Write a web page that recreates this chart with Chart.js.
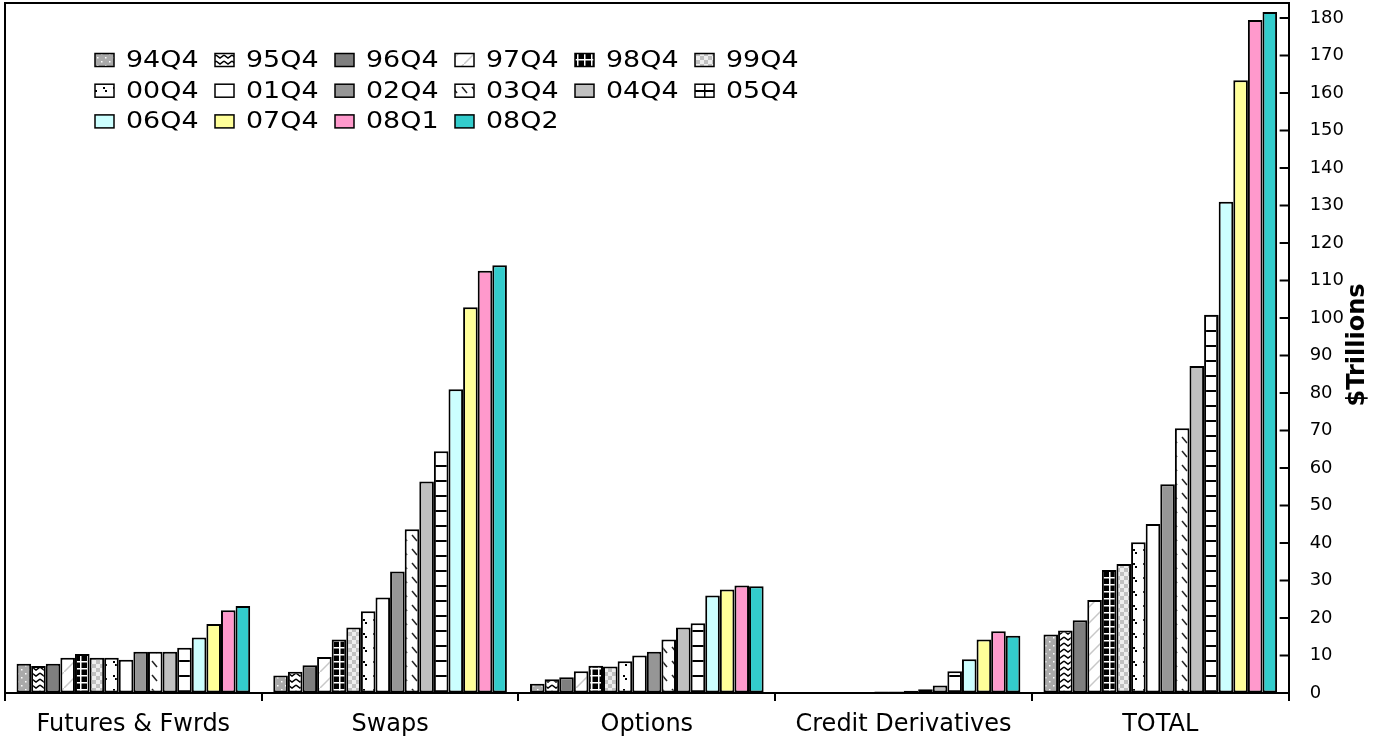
<!DOCTYPE html>
<html>
<head>
<meta charset="utf-8">
<script src="https://cdn.jsdelivr.net/npm/chart.js@4/dist/chart.umd.min.js"></script>
<style>
  body { margin: 0; background: #fff; }
  #wrap { width: 1377px; height: 741px; }
</style>
</head>
<body>
<div id="wrap"><canvas id="chart"></canvas></div>
<script>
// categories and series
const categories = ['Futures & Fwrds', 'Swaps', 'Options', 'Credit Derivatives', 'TOTAL'];
const seriesNames = ['94Q4', '95Q4', '96Q4', '97Q4', '98Q4', '99Q4',
                     '00Q4', '01Q4', '02Q4', '03Q4', '04Q4', '05Q4',
                     '06Q4', '07Q4', '08Q1', '08Q2'];

// values per category, one per series ($ trillions)
const futuresFwrds = [7.8, 7.2, 7.8, 9.4, 10.4, 9.4, 9.4, 8.9, 11.0, 11.0, 11.0, 12.1, 14.8, 18.4, 22.1, 23.2];
const swaps = [4.7, 5.7, 7.4, 9.6, 14.3, 17.5, 21.8, 25.5, 32.4, 43.7, 56.4, 64.5, 81.0, 102.9, 112.6, 114.1];
const options = [2.5, 3.7, 4.2, 5.8, 7.3, 7.1, 8.5, 10.0, 11.0, 14.3, 17.5, 18.6, 26.0, 27.6, 28.7, 28.5];
const creditDerivs = [null, null, null, null, 0.15, 0.3, 0.4, 0.4, 0.6, 1.0, 2.0, 5.8, 9.0, 14.3, 16.5, 15.3];
const total = [15.6, 16.7, 19.4, 24.8, 32.8, 34.4, 40.2, 45.1, 55.7, 70.6, 87.2, 100.9, 131.0, 163.4, 179.5, 181.6];

const yTicks = [0, 10, 20, 30, 40, 50, 60, 70, 80, 90, 100, 110, 120, 130, 140, 150, 160, 170, 180];

const FONT = "'DejaVu Sans', Verdana, sans-serif";

// small tile patterns, excel style
function tile(w, h, bg, draw) {
    const c = document.createElement('canvas');
    c.width = w; c.height = h;
    const g = c.getContext('2d');
    g.fillStyle = bg;
    g.fillRect(0, 0, w, h);
    if (draw) draw(g);
    return c.getContext('2d').createPattern(c, 'repeat');
}

const fills = [
    // 94Q4 gray with white dots
    tile(8, 8, '#a9a9a9', g => { g.fillStyle = '#fff'; g.fillRect(1, 1, 1.5, 1.5); g.fillRect(5, 5, 1.5, 1.5); }),
    // 95Q4 white with black chevrons
    tile(8, 6, '#fff', g => { g.strokeStyle = '#000'; g.lineWidth = 1.5; g.beginPath(); g.moveTo(0, 1); g.lineTo(4, 4); g.lineTo(8, 1); g.stroke(); }),
    '#7f7f7f',
    // 97Q4 white with light gray zigzag
    tile(16, 16, '#fff', g => { g.strokeStyle = '#c8c8c8'; g.lineWidth = 1.5; g.beginPath(); g.moveTo(0, 16); g.lineTo(16, 0); g.stroke(); }),
    // 98Q4 black with white crosses
    tile(7, 7, '#000', g => { g.fillStyle = '#fff'; g.fillRect(3, 0, 1.5, 7); g.fillRect(0, 3, 7, 1.5); }),
    // 99Q4 light gray checks
    tile(8, 8, '#c0c0c0', g => { g.fillStyle = '#eee'; g.fillRect(0, 0, 4, 4); g.fillRect(4, 4, 4, 4); }),
    // 00Q4 white with small black marks
    tile(10, 14, '#fff', g => { g.fillStyle = '#000'; g.fillRect(3, 3, 2, 2); g.fillRect(5, 6, 2, 2); }),
    '#ffffff',
    '#969696',
    // 03Q4 white with diagonal dashes
    tile(10, 14, '#fff', g => { g.strokeStyle = '#222'; g.lineWidth = 1.5; g.beginPath(); g.moveTo(2, 3); g.lineTo(7, 9); g.stroke(); }),
    '#c0c0c0',
    // 05Q4 white with horizontal lines
    tile(16, 15, '#fff', g => { g.fillStyle = '#000'; g.fillRect(0, 0, 16, 2); g.fillRect(0, 0, 1.5, 15); }),
    '#ccffff',
    '#ffff99',
    '#ff99cc',
    '#33cccc'
];

const byCategory = [futuresFwrds, swaps, options, creditDerivs, total];

const datasets = seriesNames.map((name, i) => ({
    label: name,
    data: byCategory.map(arr => arr[i]),
    backgroundColor: fills[i],
    borderColor: '#000',
    borderWidth: 2,
    borderSkipped: false,
    categoryPercentage: 0.91,
    barPercentage: 1.0
}));

// legend drawn inside the plot area, 6 per row
const insideLegend = {
    id: 'insideLegend',
    afterDraw(chart) {
        const ctx = chart.ctx;
        const area = chart.chartArea;
        const x0 = area.left + 90, y0 = area.top + 57;
        ctx.save();
        ctx.font = '23px ' + FONT;
        ctx.textBaseline = 'middle';
        chart.data.datasets.forEach((ds, i) => {
            const x = x0 + (i % 6) * 120;
            const y = y0 + Math.floor(i / 6) * 30.7;
            ctx.fillStyle = ds.backgroundColor;
            ctx.fillRect(x, y - 6.5, 19, 13);
            ctx.strokeStyle = '#000';
            ctx.lineWidth = 1.5;
            ctx.strokeRect(x, y - 6.5, 19, 13);
            // reference text is a bit wider than the font
            ctx.save();
            ctx.translate(x + 31, y + 1);
            ctx.scale(1.17, 1);
            ctx.fillStyle = '#000';
            ctx.fillText(ds.label, 0, 0);
            ctx.restore();
        });
        ctx.restore();
    }
};

// frame, inward y ticks, right-hand title
const frame = {
    id: 'frame',
    afterDraw(chart) {
        const ctx = chart.ctx;
        const a = chart.chartArea;
        const y = chart.scales.y;
        ctx.save();
        ctx.strokeStyle = '#000';
        ctx.lineWidth = 2;
        ctx.beginPath();
        ctx.moveTo(a.left, a.bottom);
        ctx.lineTo(a.left, a.top);
        ctx.lineTo(a.right, a.top);
        ctx.stroke();
        ctx.beginPath();
        yTicks.forEach(v => {
            const py = y.getPixelForValue(v);
            ctx.moveTo(a.right - 9, py);
            ctx.lineTo(a.right, py);
        });
        ctx.stroke();
        ctx.translate(1358, (a.top + a.bottom) / 2 - 3);
        ctx.rotate(-Math.PI / 2);
        ctx.font = 'bold 24px ' + FONT;
        ctx.fillStyle = '#000';
        ctx.textAlign = 'center';
        ctx.textBaseline = 'middle';
        ctx.fillText('$Trillions', 0, 0);
        ctx.restore();
    }
};

const chart = new Chart(document.getElementById('chart'), {
    type: 'bar',
    data: { labels: categories, datasets: datasets },
    options: {
        responsive: true,
        maintainAspectRatio: false,
        animation: false,
        layout: { padding: { left: 5, top: 3, right: 33, bottom: -8 } },
        plugins: {
            legend: { display: false },
            tooltip: { enabled: false }
        },
        scales: {
            x: {
                grid: { display: true, drawOnChartArea: false, drawTicks: true, tickLength: 8, color: '#000', lineWidth: 2, offset: true },
                border: { display: true, color: '#000', width: 2 },
                ticks: { color: '#000', font: { family: FONT, size: 24, lineHeight: 1 }, padding: 12, maxRotation: 0 }
            },
            y: {
                position: 'right',
                min: 0,
                max: 184,
                afterBuildTicks(scale) {
                    scale.ticks = yTicks.map(v => ({ value: v }));
                },
                grid: { display: true, drawOnChartArea: false, drawTicks: true, tickLength: 21, tickColor: 'rgba(0,0,0,0)' },
                border: { display: true, color: '#000', width: 2 },
                ticks: { color: '#000', font: { family: FONT, size: 18, lineHeight: 0.3 }, padding: 0 }
            }
        }
    },
    plugins: [insideLegend, frame]
});
</script>
</body>
</html>
